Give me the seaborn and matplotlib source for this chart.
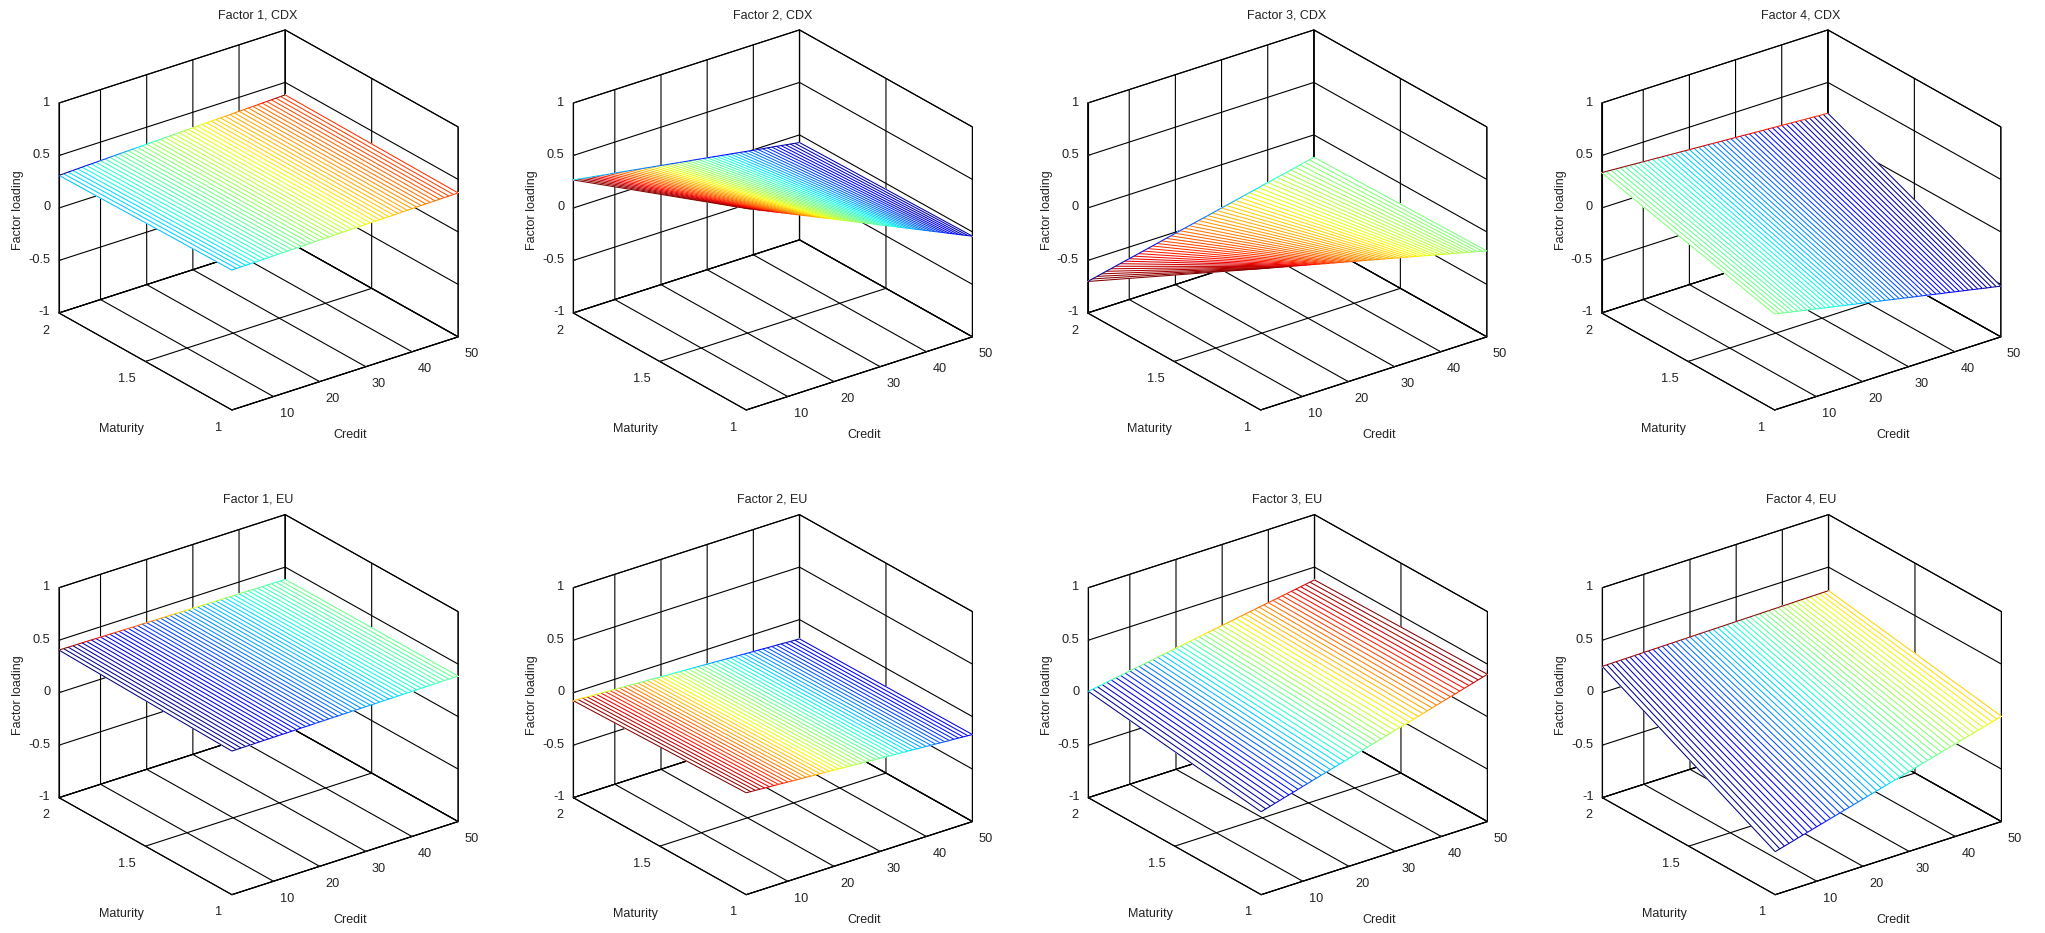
import matplotlib
matplotlib.use('Agg')
import matplotlib.pyplot as plt
import seaborn as sns
import numpy as np
from mpl_toolkits.mplot3d.art3d import Line3DCollection

credit = list(range(1, 51))
maturity = [1, 2]
credit_ticks = [10, 20, 30, 40, 50]
maturity_ticks = [1, 1.5, 2]
maturity_labels = ['1', '1.5', '2']
loading_ticks = [-1, -0.5, 0, 0.5, 1]
loading_labels = ['-1', '-0.5', '0', '0.5', '1']

# loadings, one value per credit at maturity 1 and maturity 2
cdx_f1_m1 = [.333,.334,.335,.335,.336,.337,.338,.338,.339,.340,.341,.342,.342,.343,.344,.345,.345,.346,.347,.348,.349,.349,.350,.351,.352,.352,.353,.354,.355,.356,.356,.357,.358,.359,.359,.360,.361,.362,.362,.363,.364,.365,.366,.366,.367,.368,.369,.369,.370,.371]
cdx_f1_m2 = [.311,.312,.314,.315,.317,.318,.320,.321,.322,.324,.325,.327,.328,.330,.331,.332,.334,.335,.337,.338,.340,.341,.342,.344,.345,.347,.348,.350,.351,.352,.354,.355,.357,.358,.360,.361,.362,.364,.365,.367,.368,.370,.371,.372,.374,.375,.377,.378,.380,.381]
cdx_f2_m1 = [.920,.900,.881,.861,.842,.822,.802,.783,.763,.744,.724,.704,.685,.665,.646,.626,.606,.587,.567,.548,.528,.508,.489,.469,.449,.430,.410,.391,.371,.351,.332,.312,.293,.273,.253,.234,.214,.195,.175,.155,.136,.116,.097,.077,.057,.038,.018,-.002,-.021,-.041]
cdx_f2_m2 = [.267,.260,.253,.246,.239,.232,.225,.218,.211,.205,.198,.191,.184,.177,.170,.163,.156,.149,.142,.135,.128,.121,.114,.107,.100,.093,.087,.080,.073,.066,.059,.052,.045,.038,.031,.024,.017,.010,.003,-.004,-.011,-.018,-.024,-.031,-.038,-.045,-.052,-.059,-.066,-.073]
cdx_f3_m1 = [.346,.335,.324,.314,.303,.292,.281,.271,.260,.249,.238,.228,.217,.206,.195,.185,.174,.163,.152,.142,.131,.120,.109,.099,.088,.077,.066,.056,.045,.034,.023,.013,.002,-.009,-.020,-.030,-.041,-.052,-.063,-.073,-.084,-.095,-.106,-.116,-.127,-.138,-.149,-.159,-.170,-.181]
cdx_f3_m2 = [-.700,-.690,-.680,-.670,-.660,-.650,-.640,-.630,-.620,-.611,-.601,-.591,-.581,-.571,-.561,-.551,-.541,-.531,-.521,-.511,-.501,-.491,-.481,-.471,-.461,-.452,-.442,-.432,-.422,-.412,-.402,-.392,-.382,-.372,-.362,-.352,-.342,-.332,-.322,-.312,-.302,-.292,-.283,-.273,-.263,-.253,-.243,-.233,-.223,-.213]
cdx_f4_m1 = [-.086,-.095,-.104,-.112,-.121,-.130,-.139,-.148,-.156,-.165,-.174,-.183,-.192,-.200,-.209,-.218,-.227,-.236,-.244,-.253,-.262,-.271,-.280,-.288,-.297,-.306,-.315,-.323,-.332,-.341,-.350,-.359,-.367,-.376,-.385,-.394,-.403,-.411,-.420,-.429,-.438,-.447,-.455,-.464,-.473,-.482,-.491,-.499,-.508,-.517]
cdx_f4_m2 = [.337,.334,.332,.329,.326,.324,.321,.318,.316,.313,.310,.308,.305,.302,.300,.297,.294,.292,.289,.286,.284,.281,.278,.276,.273,.270,.267,.265,.262,.259,.257,.254,.251,.249,.246,.243,.241,.238,.235,.233,.230,.227,.225,.222,.219,.217,.214,.211,.209,.206]
eu_f1_m1 = [.368,.368,.369,.369,.369,.370,.370,.371,.371,.371,.372,.372,.372,.373,.373,.374,.374,.374,.375,.375,.375,.376,.376,.376,.377,.377,.378,.378,.378,.379,.379,.379,.380,.380,.380,.381,.381,.382,.382,.382,.383,.383,.383,.384,.384,.385,.385,.385,.386,.386]
eu_f1_m2 = [.406,.406,.405,.405,.404,.404,.403,.403,.402,.402,.401,.401,.400,.400,.399,.399,.398,.398,.398,.397,.397,.396,.396,.395,.395,.394,.394,.393,.393,.392,.392,.391,.391,.390,.390,.390,.389,.389,.388,.388,.387,.387,.386,.386,.385,.385,.384,.384,.383,.383]
eu_f2_m1 = [-.029,-.032,-.035,-.038,-.041,-.043,-.046,-.049,-.052,-.055,-.058,-.061,-.064,-.067,-.070,-.072,-.075,-.078,-.081,-.084,-.087,-.090,-.093,-.096,-.099,-.101,-.104,-.107,-.110,-.113,-.116,-.119,-.122,-.125,-.128,-.130,-.133,-.136,-.139,-.142,-.145,-.148,-.151,-.154,-.157,-.159,-.162,-.165,-.168,-.171]
eu_f2_m2 = [-.076,-.078,-.080,-.083,-.085,-.087,-.089,-.091,-.094,-.096,-.098,-.100,-.102,-.105,-.107,-.109,-.111,-.113,-.116,-.118,-.120,-.122,-.124,-.127,-.129,-.131,-.133,-.135,-.138,-.140,-.142,-.144,-.147,-.149,-.151,-.153,-.155,-.158,-.160,-.162,-.164,-.166,-.169,-.171,-.173,-.175,-.177,-.180,-.182,-.184]
eu_f3_m1 = [-.210,-.197,-.185,-.172,-.160,-.147,-.135,-.122,-.110,-.097,-.085,-.072,-.060,-.047,-.035,-.022,-.010,.003,.015,.028,.040,.053,.065,.078,.090,.103,.115,.128,.140,.153,.165,.178,.190,.203,.215,.228,.240,.253,.265,.278,.290,.303,.315,.328,.340,.353,.365,.378,.390,.403]
eu_f3_m2 = [.013,.020,.028,.035,.043,.050,.058,.065,.073,.080,.087,.095,.102,.110,.117,.125,.132,.140,.147,.155,.162,.169,.177,.184,.192,.199,.207,.214,.222,.229,.236,.244,.251,.259,.266,.274,.281,.289,.296,.304,.311,.318,.326,.333,.341,.348,.356,.363,.371,.378]
eu_f4_m1 = [-.590,-.578,-.566,-.554,-.542,-.529,-.517,-.505,-.493,-.481,-.469,-.457,-.445,-.433,-.421,-.408,-.396,-.384,-.372,-.360,-.348,-.336,-.324,-.312,-.300,-.287,-.275,-.263,-.251,-.239,-.227,-.215,-.203,-.191,-.179,-.166,-.154,-.142,-.130,-.118,-.106,-.094,-.082,-.070,-.058,-.045,-.033,-.021,-.009,.003]
eu_f4_m2 = [.251,.252,.252,.253,.253,.254,.254,.255,.255,.256,.256,.257,.257,.258,.258,.259,.259,.260,.260,.261,.261,.262,.262,.263,.263,.264,.264,.265,.265,.266,.266,.267,.267,.268,.268,.269,.269,.270,.270,.271,.271,.272,.272,.273,.273,.274,.274,.275,.275,.276]

panels = [
    ('Factor 1, CDX', cdx_f1_m1, cdx_f1_m2, 0, 0),
    ('Factor 2, CDX', cdx_f2_m1, cdx_f2_m2, 514.3, 0),
    ('Factor 3, CDX', cdx_f3_m1, cdx_f3_m2, 1028.7, 0),
    ('Factor 4, CDX', cdx_f4_m1, cdx_f4_m2, 1542.7, 0),
    ('Factor 1, EU', eu_f1_m1, eu_f1_m2, 0, 484.7),
    ('Factor 2, EU', eu_f2_m1, eu_f2_m2, 514.3, 484.7),
    ('Factor 3, EU', eu_f3_m1, eu_f3_m2, 1029.3, 484.7),
    ('Factor 4, EU', eu_f4_m1, eu_f4_m2, 1543.3, 484.7),
]

FIG_W, FIG_H = 2045, 933
SIDE = 451.5
LEFT, TOP = 26.7, 0.3

sns.set_theme(style='white', rc={'axes.unicode_minus': False, 'grid.color': 'black', 'grid.linewidth': 0.8,
                                 'grid.linestyle': '-', 'axes.grid': True})
plt.rcParams['font.family'] = ['Liberation Sans', 'DejaVu Sans']
jet = matplotlib.colormaps['jet']


def surface(ax, z1, z2):
    z1, z2 = np.array(z1), np.array(z2)
    low, high = min(z1.min(), z2.min()), max(z1.max(), z2.max())
    shade = lambda v: jet((v - low) / (high - low))

    x, y = np.meshgrid(credit, maturity)
    ax.plot_surface(x, y, np.vstack([z1, z2]), color='white', shade=False, linewidth=0, antialiased=False, zorder=3)

    # lines along maturity take the colour of their maturity 1 end, edges the colour of their lower credit
    segs, colors = [], []
    for c, a, b in zip(credit, z1, z2):
        segs.append([(c, 1, a), (c, 2, b)])
        colors.append(shade(a))
    for m, z in zip(maturity, (z1, z2)):
        for i in range(len(credit) - 1):
            segs.append([(credit[i], m, z[i]), (credit[i + 1], m, z[i + 1])])
            colors.append(shade(z[i]))
    ax.add_collection3d(Line3DCollection(segs, colors=colors, linewidths=0.75, zorder=4))


def draw_panel(title, z1, z2, dx, dy):
    left, top = LEFT + dx, TOP + dy
    ax = fig.add_axes([left / FIG_W, 1 - (top + SIDE) / FIG_H, SIDE / FIG_W, SIDE / FIG_H], projection='3d')
    ax.set_facecolor('none')
    ax.computed_zorder = False
    ax.set_proj_type('ortho')
    ax.set_box_aspect((284, 286, 232))
    ax.view_init(elev=25.2, azim=-127.2)
    ax.set_xlim(1, 50)
    ax.set_ylim(1, 2)
    ax.set_zlim(-1, 1)

    ax.set_xticks(credit_ticks)
    ax.set_yticks(maturity_ticks, labels=maturity_labels)
    ax.set_zticks(loading_ticks, labels=loading_labels)
    ax.zaxis.set_ticks_position('upper')
    ax.tick_params(axis='both', labelsize=9.2, colors='#222222')
    ax.tick_params(axis='x', pad=5)
    ax.tick_params(axis='y', pad=-1)
    ax.tick_params(axis='z', pad=-4.3)
    for lab in ax.get_xticklabels():
        lab.set_va('bottom')
    for lab in ax.get_yticklabels():
        lab.set_ha('right')
        lab.set_va('top')
    for lab in ax.get_zticklabels():
        lab.set_ha('right')
        lab.set_va('center')

    for axis in (ax.xaxis, ax.yaxis, ax.zaxis):
        axis.set_pane_color((1, 1, 1, 1))
        axis.pane.set_closed(True)
        axis.pane.set_edgecolor('black')
        axis.pane.set_linewidth(0.8)
        axis.line.set_color('black')
        axis.line.set_linewidth(0.8)
        axis._axinfo['tick'].update(inward_factor=0, outward_factor=0.12, linewidth={True: 0.8, False: 0.5})

    surface(ax, z1, z2)

    # label positions come from the reference, as pixels of the panel
    def place(px, py):
        return (px - LEFT) / SIDE, 1 - (py - TOP) / SIDE

    tx, ty = place(258, 15)
    # Axes3D scales the title's y by 0.92
    ax.set_title(title, x=tx, y=ty / 0.92, va='center', fontsize=9, pad=0, color='#222222')
    for text, px, py, rot in (('Maturity', 121, 429, 0), ('Credit', 350, 435, 0), ('Factor loading', 18, 210, 90)):
        lx, ly = place(px, py)
        ax.text2D(lx, ly, text, transform=ax.transAxes, ha='center', va='center', rotation=rot,
                  fontsize=9, color='#222222')


fig = plt.figure(figsize=(FIG_W / 100, FIG_H / 100), dpi=100, facecolor='white')
for p in panels:
    draw_panel(*p)
fig.savefig('out.png', dpi=100)
